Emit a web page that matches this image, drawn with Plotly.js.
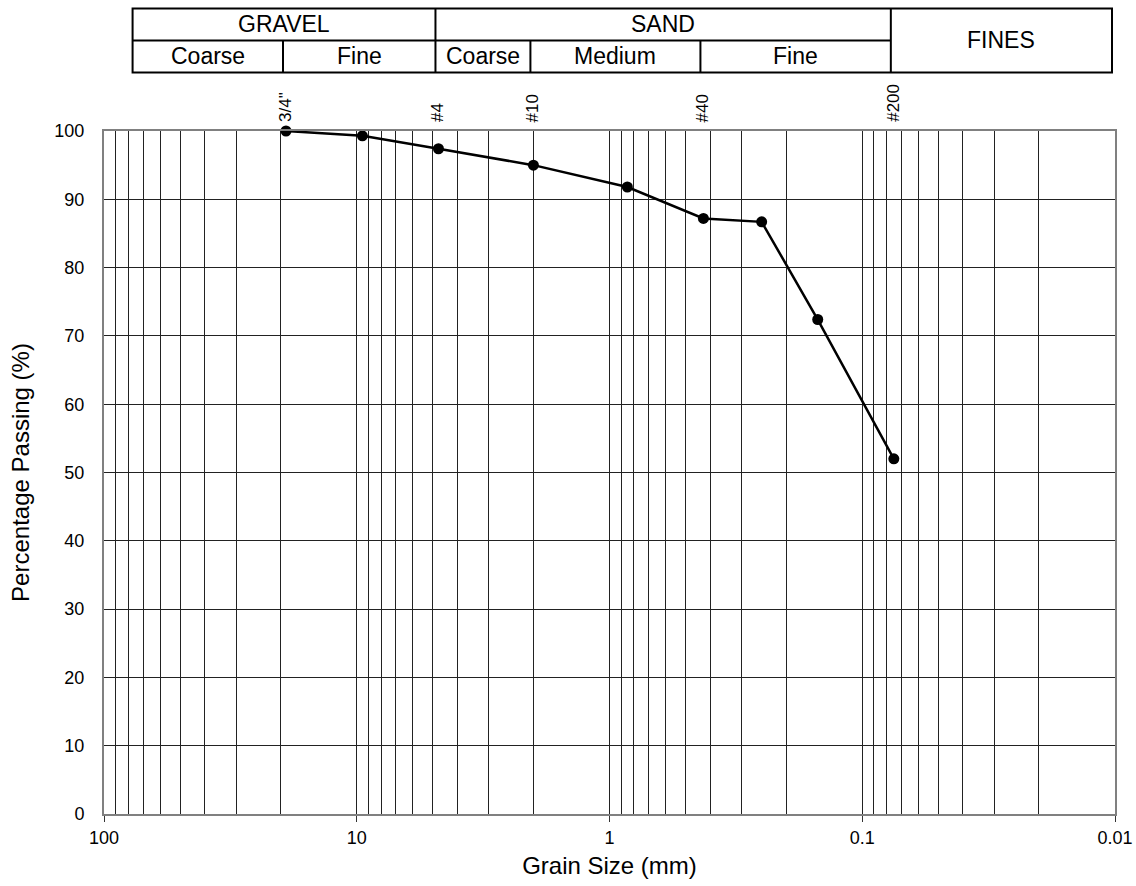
<!DOCTYPE html>
<html>
<head>
<meta charset="utf-8">
<script src="https://cdn.plot.ly/plotly-3.0.1.min.js"></script>
<style>html,body{margin:0;padding:0;background:#fff;}#chart{width:1136px;height:886px;}</style>
</head>
<body>
<div id="chart"></div>
<script>
// Grain size distribution data (sieve analysis)
var grainSizeMm = [19.05, 9.5, 4.75, 2.0, 0.85, 0.425, 0.25, 0.15, 0.075];
var percentPassing = [100, 99.3, 97.4, 95.0, 91.8, 87.2, 86.7, 72.4, 52.0];

// Sieve labels drawn above the plot
var sieveLabels = ['3/4"', '#4', '#10', '#40', '#200'];
var sieveSizesMm = [19.05, 4.75, 2.0, 0.425, 0.075];

// Soil classification header (USCS)
var groupNames = ['GRAVEL', 'SAND', 'FINES'];
var groupBounds = [[75, 4.75], [4.75, 0.075], [0.075, 0.01]];
var subNames = ['Coarse', 'Fine', 'Coarse', 'Medium', 'Fine'];
var subBounds = [[75, 19.05], [19.05, 4.75], [4.75, 2.0], [2.0, 0.425], [0.425, 0.075]];

var xTickVals = [100, 10, 1, 0.1, 0.01];
var xTickText = ['100', '10', '1', '0.1', '0.01'];
var yTickVals = [0, 10, 20, 30, 40, 50, 60, 70, 80, 90, 100];

var FONT = 'Liberation Sans, Arial, sans-serif';
var plotW = 1136 - 104 - 21;
var shiftPaper = -3 / plotW;
function toPaper(v) { return (2 - Math.log10(v)) / 4 + shiftPaper; }

var plotH = 886 - 131 - 72;
function pyToPaper(py) { return (814 - py) / plotH; }
var yTop = pyToPaper(8.5), yMid = pyToPaper(40.5), yBot = pyToPaper(72.5);

var shapes = [];
var annotations = [];
var lineStyle = {color: '#000', width: 2};
// outer box
shapes.push({type: 'rect', xref: 'paper', yref: 'paper', x0: toPaper(75), x1: toPaper(0.01), y0: yBot, y1: yTop, line: lineStyle});
// middle horizontal line across gravel & sand
shapes.push({type: 'line', xref: 'paper', yref: 'paper', x0: toPaper(75), x1: toPaper(0.075), y0: yMid, y1: yMid, line: lineStyle});
// group dividers
[4.75, 0.075].forEach(function (v) {
  shapes.push({type: 'line', xref: 'paper', yref: 'paper', x0: toPaper(v), x1: toPaper(v), y0: yBot, y1: yTop, line: lineStyle});
});
// sub dividers
[19.05, 2.0, 0.425].forEach(function (v) {
  shapes.push({type: 'line', xref: 'paper', yref: 'paper', x0: toPaper(v), x1: toPaper(v), y0: yBot, y1: yMid, line: lineStyle});
});
groupNames.forEach(function (name, i) {
  var b = groupBounds[i];
  var isFines = name === 'FINES';
  annotations.push({xref: 'paper', yref: 'paper', x: (toPaper(b[0]) + toPaper(b[1])) / 2,
    y: isFines ? (yTop + yBot) / 2 : (yTop + yMid) / 2, text: name, showarrow: false,
    xanchor: 'center', yanchor: 'middle', font: {family: FONT, size: 23, color: '#000'}});
});
subNames.forEach(function (name, i) {
  var b = subBounds[i];
  annotations.push({xref: 'paper', yref: 'paper', x: (toPaper(b[0]) + toPaper(b[1])) / 2,
    y: (yMid + yBot) / 2, text: name, showarrow: false,
    xanchor: 'center', yanchor: 'middle', font: {family: FONT, size: 23, color: '#000'}});
});
sieveLabels.forEach(function (lab, i) {
  annotations.push({xref: 'paper', yref: 'paper', x: toPaper(sieveSizesMm[i]) + 2 / plotW, y: 1,
    yshift: 7, text: lab, showarrow: false, textangle: -90, xanchor: 'center', yanchor: 'bottom',
    font: {family: FONT, size: 17, color: '#000'}});
});

var trace = {
  x: grainSizeMm, y: percentPassing, type: 'scatter', mode: 'lines+markers',
  line: {color: '#000', width: 2.5},
  marker: {color: '#000', size: 11},
  cliponaxis: false, hoverinfo: 'x+y'
};

var layout = {
  width: 1136, height: 886,
  margin: {l: 104, r: 21, t: 131, b: 72},
  paper_bgcolor: '#fff', plot_bgcolor: '#fff',
  showlegend: false,
  font: {family: FONT, color: '#000'},
  xaxis: {
    type: 'log', range: [2, -2],
    tickvals: xTickVals, ticktext: xTickText,
    ticks: 'outside', ticklen: 6, tickcolor: '#333', tickwidth: 1,
    tickfont: {family: FONT, size: 18, color: '#000'},
    showgrid: true, gridcolor: '#222', gridwidth: 1,
    minor: {dtick: 'D1', showgrid: true, gridcolor: '#222', gridwidth: 1, ticks: ''},
    showline: true, linecolor: '#808080', linewidth: 2, mirror: true,
    zeroline: false,
    title: {text: 'Grain Size (mm)', font: {family: FONT, size: 24, color: '#000'}, standoff: 11}
  },
  yaxis: {
    range: [0, 100], tickvals: yTickVals,
    ticks: '', ticklabelstandoff: 14,
    tickfont: {family: FONT, size: 18, color: '#000'},
    showgrid: true, gridcolor: '#222', gridwidth: 1,
    showline: true, linecolor: '#808080', linewidth: 2, mirror: true,
    zeroline: false,
    title: {text: 'Percentage Passing (%)', font: {family: FONT, size: 24, color: '#000'}, standoff: 18}
  },
  shapes: shapes,
  annotations: annotations
};

Plotly.newPlot('chart', [trace], layout, {displayModeBar: false, staticPlot: true});
</script>
</body>
</html>
